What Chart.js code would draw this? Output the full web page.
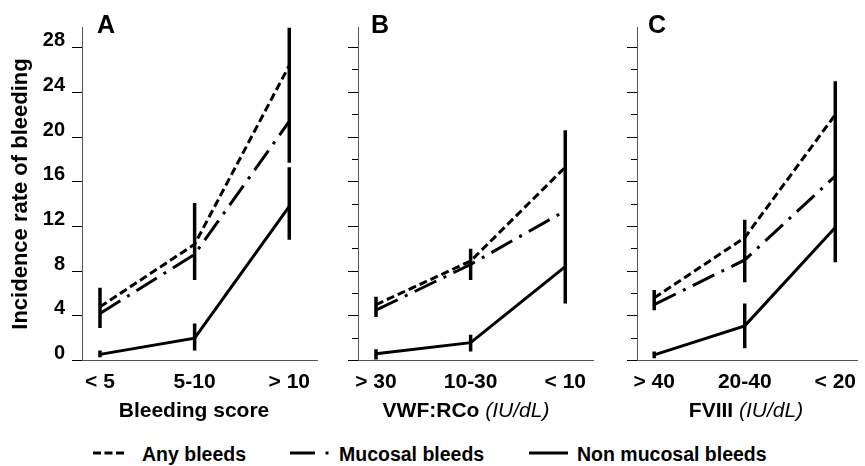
<!DOCTYPE html>
<html>
<head>
<meta charset="utf-8">
<script src="https://cdn.jsdelivr.net/npm/chart.js@4.4.1/dist/chart.umd.min.js"></script>
<style>
  html, body { margin: 0; padding: 0; background: #fff; }
  #figure { position: relative; width: 865px; height: 466px; overflow: hidden;
    font-family: 'Liberation Sans', Arial, sans-serif; color: #000; }
  #figure canvas { position: absolute; top: 0; }
  .txt { position: absolute; white-space: nowrap; line-height: 1; font-weight: bold; }
  .letter { font-size: 25px; top: 12px; }
  .xtitle { font-size: 21px; top: 399px; width: 260px; text-align: center; }
  .xtitle i { font-weight: normal; }
  .leg { font-size: 19.5px; top: 444.5px; }
  #legendLines { position: absolute; left: 0; top: 447px; }
</style>
</head>
<body>
<div id="figure">
  <canvas id="panelA" width="319" height="400" style="left:0px"></canvas>
  <canvas id="panelB" width="275" height="400" style="left:320px"></canvas>
  <canvas id="panelC" width="265" height="400" style="left:600px"></canvas>

  <div class="txt letter" style="left:97px">A</div>
  <div class="txt letter" style="left:371px">B</div>
  <div class="txt letter" style="left:648px">C</div>

  <div class="txt xtitle" style="left:64px">Bleeding score</div>
  <div class="txt xtitle" style="left:336px">VWF:RCo <i>(IU/dL)</i></div>
  <div class="txt xtitle" style="left:616px">FVIII <i>(IU/dL)</i></div>

  <svg id="legendLines" width="865" height="12">
    <line x1="93" y1="6" x2="124" y2="6" stroke="#000" stroke-width="3" stroke-dasharray="8 3.5"/>
    <line x1="290" y1="6" x2="315" y2="6" stroke="#000" stroke-width="3"/>
    <line x1="325.5" y1="6" x2="328.5" y2="6" stroke="#000" stroke-width="3"/>
    <line x1="529" y1="6" x2="568" y2="6" stroke="#000" stroke-width="3"/>
  </svg>
  <div class="txt leg" style="left:142px">Any bleeds</div>
  <div class="txt leg" style="left:339px">Mucosal bleeds</div>
  <div class="txt leg" style="left:577px">Non mucosal bleeds</div>
</div>

<script>
// categories for each panel
const categoriesA = ['< 5', '5-10', '> 10'];
const categoriesB = ['> 30', '10-30', '< 10'];
const categoriesC = ['> 40', '20-40', '< 20'];

// y axis ticks (every 2, labelled every 4)
const yTicks = [0, 2, 4, 6, 8, 10, 12, 14, 16, 18, 20, 22, 24, 26, 28];
const yTickLabels = [0, 4, 8, 12, 16, 20, 24, 28];

// A: bleeding score
const anyA = [4.8, 10.4, 26.4];
const mucosalA = [4.2, 9.5, 21.4];
const nonMucosalA = [0.55, 2.0, 13.8];
const anyLowA = [2.9, 7.2, 17.7];
const anyHighA = [6.5, 14.1, 29.8];
const nonLowA = [0.3, 0.9, 10.8];
const nonHighA = [0.9, 3.3, 17.3];

// B: VWF:RCo
const anyB = [5.0, 8.9, 17.3];
const mucosalB = [4.5, 8.6, 13.4];
const nonMucosalB = [0.6, 1.6, 8.4];
const anyLowB = [3.9, 7.2, 5.1];
const anyHighB = [5.7, 10.0, 20.6];
const nonLowB = [0.1, 0.8, null];
const nonHighB = [1.0, 2.3, null];

// C: FVIII
const anyC = [5.6, 11.0, 22.0];
const mucosalC = [5.0, 9.0, 16.5];
const nonMucosalC = [0.5, 3.1, 11.9];
const anyLowC = [4.5, 7.0, 8.8];
const anyHighC = [6.3, 12.6, 25.0];
const nonLowC = [0.2, 1.1, null];
const nonHighC = [0.8, 5.1, null];

const FONT = "'Liberation Sans', Arial, sans-serif";

const toPoints = values => values.map((v, i) => ({ x: i, y: v }));

// vertical CI segments, broken by null points
const errorBarPoints = (low, high) => {
	const pts = [];
	low.forEach((lo, i) => {
		if (lo == null || high[i] == null) return;
		pts.push({ x: i, y: lo }, { x: i, y: high[i] }, { x: i, y: null });
	});
	return pts;
};

const seriesLine = (label, values, dash) => ({
	label: label,
	data: toPoints(values),
	borderColor: '#000',
	borderWidth: 3,
	borderDash: dash,
	pointRadius: 0,
	tension: 0,
	fill: false
});

const errorLine = (low, high) => ({
	data: errorBarPoints(low, high),
	borderColor: '#000',
	borderWidth: 3.5,
	borderCapStyle: 'butt',
	pointRadius: 0,
	spanGaps: false,
	fill: false
});

function buildPanel(id, p) {
	const ctx = document.getElementById(id).getContext('2d');
	return new Chart(ctx, {
		type: 'line',
		data: {
			datasets: [
				seriesLine('Any bleeds', p.any, [8, 4]),
				seriesLine('Mucosal bleeds', p.mucosal, [24, 8, 3, 8]),
				seriesLine('Non mucosal bleeds', p.nonMucosal, []),
				errorLine(p.anyLow, p.anyHigh),
				errorLine(p.nonLow, p.nonHigh)
			]
		},
		options: {
			responsive: false,
			animation: false,
			layout: { padding: { left: 0, top: 27.5, right: 0, bottom: 0 } },
			plugins: {
				legend: { display: false },
				tooltip: { enabled: false }
			},
			scales: {
				x: {
					type: 'linear',
					min: -0.19,
					max: p.xMax,
					afterBuildTicks: s => { s.ticks = p.categories.map((c, i) => ({ value: i })); },
					afterFit: s => { s.height = 39.5; },
					ticks: {
						callback: v => p.categories[v],
						font: { family: FONT, size: 21, weight: 'bold' },
						color: '#000',
						padding: 9,
						maxRotation: 0,
						autoSkip: false
					},
					grid: { drawOnChartArea: false, drawTicks: false },
					border: { color: '#555', width: 1 }
				},
				y: {
					min: 0,
					max: 29.8,
					afterBuildTicks: s => { s.ticks = yTicks.map(v => ({ value: v })); },
					afterFit: s => { s.width = p.yWidth; },
					ticks: {
						display: p.showLabels,
						callback: v => yTickLabels.includes(v) ? String(v) : '',
						font: { family: FONT, size: 20, weight: 'bold' },
						color: '#000',
						padding: 7,
						labelOffset: -7
					},
					grid: {
						drawOnChartArea: false,
						tickLength: 10,
						tickColor: '#000',
						tickWidth: 1,
						// short minor ticks: keep only the inner 6px
						tickBorderDash: c => (c.tick && !yTickLabels.includes(c.tick.value)) ? [6, 4] : [],
						tickBorderDashOffset: 6
					},
					border: { color: '#555', width: 1 },
					title: {
						display: p.showLabels,
						text: 'Incidence rate of bleeding',
						font: { family: FONT, size: 22, weight: 'bold' },
						color: '#000',
						padding: { top: 8, bottom: 0 }
					}
				}
			}
		}
	});
}

buildPanel('panelA', {
	categories: categoriesA, any: anyA, mucosal: mucosalA, nonMucosal: nonMucosalA,
	anyLow: anyLowA, anyHigh: anyHighA, nonLow: nonLowA, nonHigh: nonHighA,
	xMax: 2.3, yWidth: 82, showLabels: true
});
buildPanel('panelB', {
	categories: categoriesB, any: anyB, mucosal: mucosalB, nonMucosal: nonMucosalB,
	anyLow: anyLowB, anyHigh: anyHighB, nonLow: nonLowB, nonHigh: nonHighB,
	xMax: 2.3, yWidth: 38, showLabels: false
});
buildPanel('panelC', {
	categories: categoriesC, any: anyC, mucosal: mucosalC, nonMucosal: nonMucosalC,
	anyLow: anyLowC, anyHigh: anyHighC, nonLow: nonLowC, nonHigh: nonHighC,
	xMax: 2.25, yWidth: 37, showLabels: false
});
</script>
</body>
</html>
